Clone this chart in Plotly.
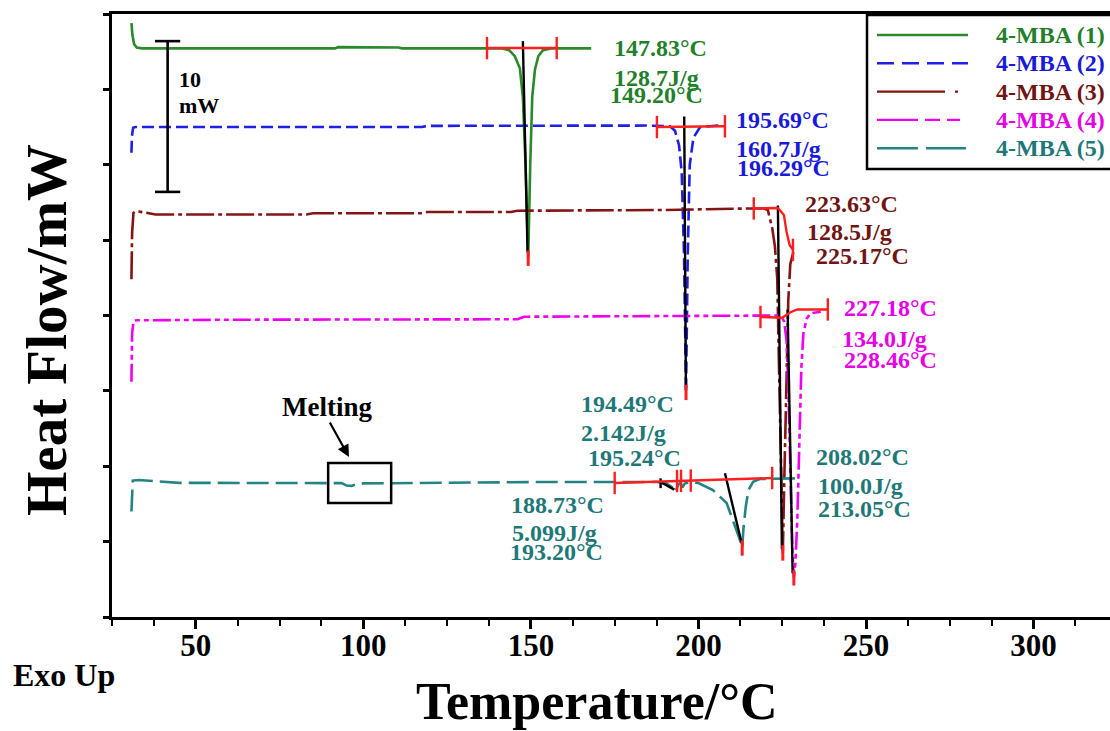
import numpy as np
import plotly.graph_objects as go

# ---------------- data (temperature in °C, heat flow in mW) ----------------
T1 = [30.8, 31.1, 31.6, 32.4, 34.0, 60.0, 91.5, 92.5, 104.5, 110.5, 111.5, 130.0, 141.5, 143.5,
      145.2, 146.7, 147.6, 148.4, 149.2, 149.8, 150.4, 151.2, 152.2, 153.6, 156.0, 168.0]
HF1 = [39.4, 38.6, 38.0, 37.78, 37.72, 37.72, 37.72, 37.8, 37.8, 37.78, 37.72, 37.72, 37.72, 37.6,
       37.2, 36.4, 34.5, 30.0, 23.8, 30.0, 34.5, 36.3, 37.2, 37.6, 37.72, 37.72]

T2 = [30.8, 30.95, 31.3, 32.0, 60.0, 117.5, 119.0, 150.0, 185.0, 191.5, 193.0, 194.2, 195.0,
      195.7, 196.29, 196.8, 197.4, 198.5, 200.5, 206.0]
HF2 = [30.8, 31.9, 32.45, 32.5, 32.5, 32.5, 32.58, 32.6, 32.6, 32.55, 32.25, 31.3, 29.5,
       24.0, 14.9, 24.0, 30.0, 31.8, 32.5, 32.6]

T3 = [30.8, 31.0, 31.4, 32.2, 38.0, 60.0, 83.0, 85.0, 117.0, 119.0, 144.0, 146.0, 190.0, 215.0,
      219.5, 220.7, 222.0, 222.8, 223.5, 224.0, 224.6, 225.17, 225.6, 226.2, 226.8, 227.4, 228.3]
HF3 = [22.4, 25.5, 26.8, 26.93, 26.7, 26.7, 26.7, 26.78, 26.78, 26.87, 26.87, 26.95, 27.0, 27.1,
       27.1, 27.0, 25.8, 24.6, 22.5, 17.0, 10.0, 4.25, 9.0, 16.0, 21.0, 23.4, 24.2]

T4 = [30.8, 31.0, 31.4, 32.2, 60.0, 146.0, 148.0, 200.0, 224.5, 225.6, 226.3, 226.9, 227.5,
      228.0, 228.46, 228.9, 229.5, 230.1, 230.7, 231.3, 232.3, 233.5, 236.5]
HF4 = [15.6, 18.8, 19.6, 19.68, 19.72, 19.75, 19.92, 19.95, 20.0, 19.6, 18.3, 14.5, 9.0,
       4.5, 2.6, 3.5, 6.5, 11.5, 16.5, 18.8, 19.8, 20.15, 20.25]

T5 = [30.8, 31.2, 33.0, 45.0, 93.5, 95.0, 96.5, 98.5, 150.0, 187.5, 190.5, 192.2, 193.2, 193.9,
      194.6, 195.24, 195.9, 197.5, 200.0, 204.3, 208.4, 210.3, 212.4, 213.05, 213.4, 214.1,
      214.9, 216.3, 218.3, 229.0]
HF5 = [7.0, 9.05, 9.09, 8.9, 8.88, 8.72, 8.7, 8.86, 8.95, 8.96, 8.85, 8.6, 8.3, 8.75,
       8.9, 8.6, 8.85, 8.95, 8.89, 8.42, 7.56, 6.43, 5.1, 4.58, 5.8, 7.3,
       8.42, 8.97, 9.15, 9.2]

SERIES = ["4-MBA (1)", "4-MBA (2)", "4-MBA (3)", "4-MBA (4)", "4-MBA (5)"]
CURVES_T = [T1, T2, T3, T4, T5]
CURVES_HF = [HF1, HF2, HF3, HF4, HF5]

# integration baselines (red) of the thermal analysis
RB_T = [[136.9, 157.7],
        [187.6, 207.9],
        [216.5, 223.7, 225.5, 226.3, 227.2, 228.2],
        [218.5, 225.0, 227.3, 229.5, 238.6],
        [175.0, 222.0]]
RB_HF = [[37.74, 37.74],
         [32.5, 32.55],
         [27.1, 27.13, 26.67, 25.54, 24.68, 24.35],
         [19.9, 19.85, 20.2, 20.4, 20.4],
         [8.89, 9.22]]
# limit marks on the baselines
LIM_T = [[136.9, 157.7], [187.6, 207.9], [216.5, 228.2], [218.5, 238.6],
         [175.0, 193.6, 194.8, 197.7, 222.0]]

# onset tangent lines (black): [T_start, T_end], [HF_start, HF_end]
TAN_T = [[147.6, 149.0], [195.75, 196.25], [223.7, 224.9], [226.6, 228.1],
         [207.9, 212.9], [188.7, 188.7], [189.2, 192.8]]
TAN_HF = [[38.2, 24.2], [33.2, 15.06], [27.3, 4.5], [20.4, 2.9],
          [9.53, 4.89], [9.2, 8.55], [8.9, 8.45]]

# peak results
ONSET = ["147.83", "195.69", "223.63", "227.18", "208.02", "188.73", "194.49"]
ENTHALPY = ["128.7", "160.7", "128.5", "134.0", "100.0", "5.099", "2.142"]
PEAK_T = [149.20, 196.29, 225.17, 228.46, 213.05, 193.20, 195.24]
PEAK_HF = [23.8, 14.9, 4.25, 2.6, 4.58]

SCALE_BAR_T = 41.6
SCALE_BAR_BASE = 28.2
SCALE_BAR_MW = 10
MELT_BOX_T = [89.5, 108.3]
MELT_BOX_HF = [7.56, 10.22]

X_TICKS = [50, 100, 150, 200, 250, 300]

# ---------------- styling ----------------
COLORS = ["#2a8a2a", "#1f1fe6", "#861414", "#f000f0", "#268383"]
TEXT_COLORS = ["#23802a", "#1a1ad9", "#701515", "#e600e6", "#1f7878"]
DASHES = ["solid", "12px,5px", "28px,4px,4px,4px", "18px,4px,5px,4px,5px,4px", "22px,7px"]
LEG_DASHES = ["solid", "17px,8px", "68px,10px,3px,10px", "41px,7px,15px,7px,13px,60px", "41px,8px,40px,20px"]
RED = "#ff1f1f"
FONT = "Liberation Serif"

W, H = 1110, 731
L, R, TOP, BOT = 112, 0, 14, 114


def px_x(px):
    return (px - L) / (W - L - R)


def px_y(py):
    return (H - BOT - py) / (H - BOT - TOP)


fig = go.Figure()

for name, t, hf, c, d in zip(SERIES, CURVES_T, CURVES_HF, COLORS, DASHES):
    fig.add_trace(go.Scatter(x=t, y=hf, mode="lines", name=name, showlegend=False,
                             line=dict(color=c, width=2.6, dash=d)))

# black onset tangents
for t, hf in zip(TAN_T, TAN_HF):
    fig.add_trace(go.Scatter(x=t, y=hf, mode="lines", showlegend=False, hoverinfo="skip",
                             line=dict(color="black", width=2.4)))

# red integration baselines + limit marks
for t, hf, lim in zip(RB_T, RB_HF, LIM_T):
    fig.add_trace(go.Scatter(x=t, y=hf, mode="lines", showlegend=False, hoverinfo="skip",
                             line=dict(color=RED, width=2.4)))
    fig.add_trace(go.Scatter(x=lim, y=np.interp(lim, t, hf), mode="markers", showlegend=False,
                             hoverinfo="skip",
                             marker=dict(symbol="line-ns", size=16, line=dict(color=RED, width=2.4))))

# red peak marks
fig.add_trace(go.Scatter(x=PEAK_T[:5], y=PEAK_HF, mode="markers", showlegend=False, hoverinfo="skip",
                         marker=dict(symbol="line-ns", size=11, line=dict(color=RED, width=3))))

# scale bar
fig.add_trace(go.Scatter(x=[SCALE_BAR_T, SCALE_BAR_T], y=[SCALE_BAR_BASE, SCALE_BAR_BASE + SCALE_BAR_MW],
                         mode="lines+markers", showlegend=False, hoverinfo="skip",
                         line=dict(color="black", width=2.6),
                         marker=dict(symbol="line-ew", size=18, line=dict(color="black", width=2.6))))

shapes = []
annotations = []

# melting box + arrow
shapes.append(dict(type="rect", xref="x", yref="y", x0=MELT_BOX_T[0], x1=MELT_BOX_T[1],
                   y0=MELT_BOX_HF[0], y1=MELT_BOX_HF[1], line=dict(color="black", width=2.5)))
annotations.append(dict(xref="paper", yref="paper", x=px_x(327), y=px_y(407), text="<b>Melting</b>",
                        showarrow=False, font=dict(family=FONT, size=27, color="black"),
                        xanchor="center", yanchor="middle"))
annotations.append(dict(xref="paper", yref="paper", x=px_x(349), y=px_y(457), ax=-20, ay=-36,
                        axref="pixel", ayref="pixel", text="", showarrow=True, arrowhead=2,
                        arrowsize=1.1, arrowwidth=2.2, arrowcolor="black"))

# scale bar text
annotations.append(dict(xref="paper", yref="paper", x=px_x(177), y=px_y(80), text="<b>10</b>",
                        showarrow=False, font=dict(family=FONT, size=22, color="black"),
                        xanchor="left", yanchor="middle"))
annotations.append(dict(xref="paper", yref="paper", x=px_x(177), y=px_y(106), text="<b>mW</b>",
                        showarrow=False, font=dict(family=FONT, size=22, color="black"),
                        xanchor="left", yanchor="middle"))

# peak result labels: (onset, enthalpy, peak) positions in px
LABEL_POS = [
    [(660, 48), (656, 78), (656, 95)],
    [(782, 120), (778, 149), (783, 168)],
    [(851, 204), (849, 232), (862, 256)],
    [(890, 308), (884, 339), (890, 360)],
    [(862, 457), (860, 486), (864, 509)],
    [(557, 505), (554, 533), (556, 552)],
    [(627, 404), (623, 433), (634, 458)],
]
LABEL_COLOR_IDX = [0, 1, 2, 3, 4, 4, 4]
for i in range(len(ONSET)):
    texts = [f"{ONSET[i]}°C", f"{ENTHALPY[i]}J/g", f"{PEAK_T[i]:.2f}°C"]
    col = TEXT_COLORS[LABEL_COLOR_IDX[i]]
    for txt, (px, py) in zip(texts, LABEL_POS[i]):
        annotations.append(dict(xref="paper", yref="paper", x=px_x(px), y=px_y(py), text=f"<b>{txt}</b>",
                                showarrow=False, font=dict(family=FONT, size=24, color=col),
                                xanchor="center", yanchor="middle"))

# manual legend
shapes.append(dict(type="rect", xref="paper", yref="paper", x0=px_x(867), x1=px_x(1122),
                   y0=px_y(169), y1=px_y(15), line=dict(color="black", width=2.5),
                   fillcolor="white", layer="above"))
for k, (name, c, tc, d) in enumerate(zip(SERIES, COLORS, TEXT_COLORS, LEG_DASHES)):
    yy = 35 + k * 28.3
    shapes.append(dict(type="line", xref="paper", yref="paper", x0=px_x(877), x1=px_x(968),
                       y0=px_y(yy), y1=px_y(yy), line=dict(color=c, width=2.4, dash=d), layer="above"))
    annotations.append(dict(xref="paper", yref="paper", x=px_x(994), y=px_y(yy), text=f"<b>{name}</b>",
                            showarrow=False, font=dict(family=FONT, size=24, color=tc),
                            xanchor="left", yanchor="middle"))

# axis titles
annotations.append(dict(xref="paper", yref="paper", x=px_x(597), y=px_y(701), text="<b>Temperature/°C</b>",
                        showarrow=False, font=dict(family=FONT, size=52, color="black"),
                        xanchor="center", yanchor="middle"))
annotations.append(dict(xref="paper", yref="paper", x=px_x(46), y=px_y(330), text="<b>Heat Flow/mW</b>",
                        showarrow=False, font=dict(family=FONT, size=57, color="black"), textangle=-90,
                        xanchor="center", yanchor="middle"))
annotations.append(dict(xref="paper", yref="paper", x=px_x(64), y=px_y(675), text="<b>Exo Up</b>",
                        showarrow=False, font=dict(family=FONT, size=32, color="black"),
                        xanchor="center", yanchor="middle"))

fig.update_layout(
    width=W, height=H,
    margin=dict(l=L, r=R, t=TOP, b=BOT, pad=0),
    paper_bgcolor="white", plot_bgcolor="white",
    showlegend=False,
    shapes=shapes, annotations=annotations,
    xaxis=dict(range=[25, 322.8], showgrid=False, zeroline=False, showline=True, linecolor="black",
               linewidth=3, mirror=True, ticks="outside", ticklen=9, tickwidth=2.5, tickcolor="black",
               tickvals=X_TICKS, ticktext=[str(v) for v in X_TICKS], ticklabelstandoff=-10,
               tickfont=dict(family=FONT, size=31, color="black", weight="bold"),
               minor=dict(tickmode="linear", tick0=25, dtick=12.5, ticks="outside", ticklen=6,
                          tickwidth=2, tickcolor="black", showgrid=False)),
    yaxis=dict(range=[0, 40], showgrid=False, zeroline=False, showline=True, linecolor="black",
               linewidth=3, ticks="outside", ticklen=6, tickwidth=2.5, tickcolor="black",
               tickmode="linear", tick0=0, dtick=5, showticklabels=False),
)

fig.write_html("out.html")
